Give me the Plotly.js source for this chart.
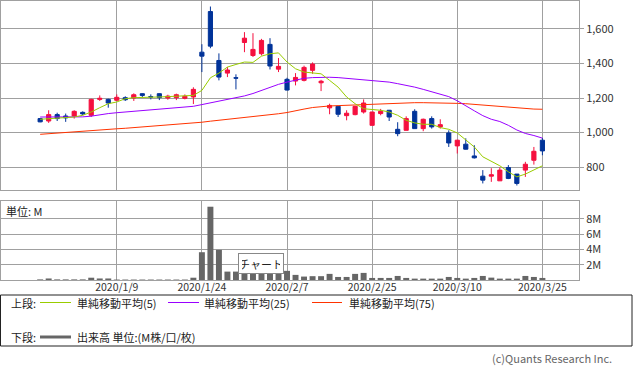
<!DOCTYPE html>
<html>
<head>
<meta charset="utf-8">
<script src="https://cdn.plot.ly/plotly-3.0.1.min.js"></script>
<style>html,body{margin:0;padding:0;background:#fff;}#chart{width:633px;height:374px;}</style>
</head>
<body>
<div id="chart"></div>
<script>
const dates = ['2019/12/23','2019/12/24','2019/12/25','2019/12/26','2019/12/27','2019/12/30',
 '2020/1/6','2020/1/7','2020/1/8','2020/1/9','2020/1/10','2020/1/14','2020/1/15','2020/1/16','2020/1/17','2020/1/20','2020/1/21','2020/1/22','2020/1/23','2020/1/24','2020/1/27','2020/1/28','2020/1/29','2020/1/30','2020/1/31',
 '2020/2/3','2020/2/4','2020/2/5','2020/2/6','2020/2/7','2020/2/10','2020/2/12','2020/2/13','2020/2/14','2020/2/17','2020/2/18','2020/2/19','2020/2/20','2020/2/21','2020/2/25','2020/2/26','2020/2/27','2020/2/28',
 '2020/3/2','2020/3/3','2020/3/4','2020/3/5','2020/3/6','2020/3/9','2020/3/10','2020/3/11','2020/3/12','2020/3/13','2020/3/16','2020/3/17','2020/3/18','2020/3/19','2020/3/23','2020/3/24','2020/3/25'];

const openP  = [1081,1067,1104,1096,1096,1117,1100,1192,1192,1187,1202,1200,1225,1208,1225,1200,1202,1198,1206,1465,1700,1417,1344,1317,1521,1446,1456,1510,1367,1308,1298,1302,1360,1288,1143,1152,1098,1104,1119,1042,1110,1129,1019,1013,1123,1023,1081,1033,998,923,933,865,748,748,721,798,760,783,840,956];
const highP  = [1083,1129,1115,1110,1129,1123,1196,1215,1196,1221,1210,1227,1227,1221,1227,1219,1225,1221,1262,1511,1729,1458,1379,1337,1581,1575,1542,1546,1431,1317,1344,1387,1406,1305,1167,1155,1129,1153,1192,1120,1137,1131,1060,1094,1135,1081,1094,1077,1013,958,967,927,783,794,798,812,760,831,917,969];
const lowP   = [1060,1056,1067,1062,1081,1100,1090,1183,1144,1183,1183,1183,1206,1192,1188,1190,1188,1192,1165,1350,1488,1302,1321,1250,1465,1437,1446,1365,1350,1244,1273,1296,1340,1240,1106,1090,1071,1100,1110,1042,1100,1067,979,1013,1023,1008,1023,1023,917,879,902,850,706,715,721,731,694,744,815,869];
const closeP = [1062,1104,1081,1085,1123,1108,1192,1198,1171,1204,1190,1219,1215,1206,1202,1211,1219,1210,1250,1442,1500,1321,1362,1315,1546,1481,1533,1385,1383,1246,1319,1377,1396,1297,1157,1106,1112,1152,1171,1119,1123,1090,994,1081,1023,1077,1033,1046,940,956,904,854,725,756,783,735,706,817,892,894];

const ma5  = [1077,1081,1081,1087,1090,1100,1119,1144,1167,1177,1196,1202,1202,1206,1206,1208,1210,1210,1215,1244,1317,1344,1379,1394,1408,1406,1442,1456,1461,1408,1369,1350,1344,1340,1302,1263,1206,1167,1138,1133,1129,1119,1100,1071,1056,1048,1048,1029,1019,998,956,917,860,835,808,773,744,760,783,808];
const ma25 = [1090,1090,1090,1090,1090,1091,1095,1104,1110,1115,1119,1122,1127,1132,1136,1139,1143,1146,1152,1162,1172,1181,1190,1200,1212,1226,1245,1262,1279,1292,1305,1314,1318,1320,1320,1318,1314,1310,1306,1302,1296,1292,1283,1275,1263,1250,1236,1223,1208,1184,1153,1126,1098,1077,1064,1042,1015,995,983,968];
const ma75 = [990,994,998,1002,1005,1009,1013,1016,1019,1022,1025,1029,1033,1036,1038,1041,1045,1050,1055,1060,1066,1071,1076,1080,1085,1091,1097,1103,1109,1116,1124,1136,1145,1151,1154,1156,1158,1160,1163,1165,1168,1170,1172,1173,1173,1173,1173,1173,1171,1169,1167,1163,1160,1155,1151,1146,1142,1138,1136,1135];
const volume = [0.08,0.2,0.08,0.08,0.08,0.08,0.3,0.2,0.2,0.06,0.06,0.06,0.06,0.06,0.06,0.06,0.06,0.06,0.3,3.64,9.6,3.95,1.1,1.1,1.1,1.1,1.1,1.1,1.1,1.2,0.67,0.45,0.5,0.5,0.8,0.4,0.4,0.8,0.93,0.27,0.27,0.27,0.53,0.27,0.18,0.18,0.18,0.18,0.4,0.27,0.18,0.27,0.53,0.31,0.18,0.18,0.18,0.53,0.4,0.27];

const tickDates = ['2020/1/9','2020/1/24','2020/2/7','2020/2/25','2020/3/10','2020/3/25'];
const priceTicks = [800,1000,1200,1400,1600];
const volTicks = [2,4,6,8];
const volTickText = ['2M','4M','6M','8M'];

const RED = '#f5103f', BLUE = '#003399', GREEN = '#99cc00', PURPLE = '#9900ff', ORANGE = '#ff3300', GRID = '#a0a0a0';
const FONT = 'Noto Sans CJK JP, Noto Sans, DejaVu Sans, sans-serif';

const traces = [
  {type:'candlestick', x:dates, open:openP, high:highP, low:lowP, close:closeP, xaxis:'x', yaxis:'y',
   increasing:{line:{color:RED,width:1}, fillcolor:RED}, decreasing:{line:{color:BLUE,width:1}, fillcolor:BLUE},
   whiskerwidth:0, hoverinfo:'skip', showlegend:false},
  {type:'scatter', mode:'lines', x:dates, y:ma75, line:{color:ORANGE,width:1}, xaxis:'x', yaxis:'y', hoverinfo:'skip'},
  {type:'scatter', mode:'lines', x:dates, y:ma25, line:{color:PURPLE,width:1}, xaxis:'x', yaxis:'y', hoverinfo:'skip'},
  {type:'scatter', mode:'lines', x:dates, y:ma5, line:{color:GREEN,width:1}, xaxis:'x', yaxis:'y', hoverinfo:'skip'},
  {type:'bar', x:dates, y:volume, marker:{color:'#666666', line:{width:0}}, xaxis:'x2', yaxis:'y2', hoverinfo:'skip'}
];

const W = 633, H = 374, ML = 1, MR = 54, MT = 1, MB = 94;
const pw = W - ML - MR, ph = H - MT - MB;
const xp = px => (px - ML) / pw;
const yp = py => (H - MB - py) / ph;

const xr = [-4.6, 63.3];
const axisCommon = {type:'category', categoryorder:'array', categoryarray:dates, range:xr, tickvals:tickDates,
  showgrid:true, gridcolor:GRID, gridwidth:1, showline:true, mirror:true, linecolor:GRID, linewidth:1, ticks:'', zeroline:false, fixedrange:true};

const shapes = [
  {type:'rect', xref:'paper', yref:'paper', x0:xp(0.5), x1:xp(632), y0:yp(295), y1:yp(346), line:{color:'#222',width:1}},
  {type:'line', xref:'paper', yref:'paper', x0:xp(40), x1:xp(71), y0:yp(302.5), y1:yp(302.5), line:{color:GREEN,width:1}},
  {type:'line', xref:'paper', yref:'paper', x0:xp(168), x1:xp(199), y0:yp(302.5), y1:yp(302.5), line:{color:PURPLE,width:1}},
  {type:'line', xref:'paper', yref:'paper', x0:xp(312), x1:xp(342), y0:yp(302.5), y1:yp(302.5), line:{color:ORANGE,width:1}},
  {type:'line', xref:'paper', yref:'paper', x0:xp(40), x1:xp(71), y0:yp(337), y1:yp(337), line:{color:'#666',width:3}}
];

const ann = (text, px, py, extra) => Object.assign({text:text, xref:'paper', yref:'paper', x:xp(px), y:yp(py), xanchor:'left', yanchor:'middle', showarrow:false, font:{family:FONT, size:11, color:'#222'}}, extra||{});
const annotations = [
  ann('上段:', 9, 303),
  ann('単純移動平均(5)', 75, 303),
  ann('単純移動平均(25)', 202, 303),
  ann('単純移動平均(75)', 347, 303),
  ann('下段:', 9, 337),
  ann('出来高 単位:(M株/口/枚)', 75, 337),
  ann('(c)Quants Research Inc.', 614, 358, {xanchor:'right', font:{family:FONT, size:11, color:'#666'}}),
  ann('単位: M', 4, 211),
  ann('チャート', 261, 263.5, {xanchor:'center', bgcolor:'#fff', bordercolor:'#888', borderwidth:1, borderpad:3, width:38, height:13, font:{family:FONT, size:11, color:'#222'}})
];

const layout = {
  width:W, height:H, margin:{l:ML, r:MR, t:MT, b:MB, pad:0},
  paper_bgcolor:'#fff', plot_bgcolor:'#fff', showlegend:false, dragmode:false,
  font:{family:FONT, size:11, color:'#333'},
  xaxis:Object.assign({}, axisCommon, {anchor:'y', showticklabels:false, rangeslider:{visible:false}}),
  xaxis2:Object.assign({}, axisCommon, {anchor:'y2', showticklabels:true, ticktext:tickDates, ticklabelstandoff:-3, tickfont:{family:FONT,size:10.5,color:'#333'}}),
  yaxis:{domain:[yp(190), 1], range:[668, 1761], side:'right', tickvals:priceTicks, tickformat:',d', showgrid:true, gridcolor:GRID,
    ticks:'outside', ticklen:4, tickcolor:GRID, showline:true, mirror:true, linecolor:GRID, zeroline:false, tickfont:{family:FONT,size:11,color:'#333'}, fixedrange:true},
  yaxis2:{domain:[0, yp(201)], range:[0, 10.35], side:'right', tickvals:volTicks, ticktext:volTickText, showgrid:true, gridcolor:GRID,
    ticks:'outside', ticklen:4, tickcolor:GRID, showline:true, mirror:true, linecolor:GRID, zeroline:false, tickfont:{family:FONT,size:11,color:'#333'}, fixedrange:true},
  bargap:0.3,
  shapes:shapes, annotations:annotations
};

Plotly.newPlot('chart', traces, layout, {staticPlot:true, displayModeBar:false});
</script>
</body>
</html>
